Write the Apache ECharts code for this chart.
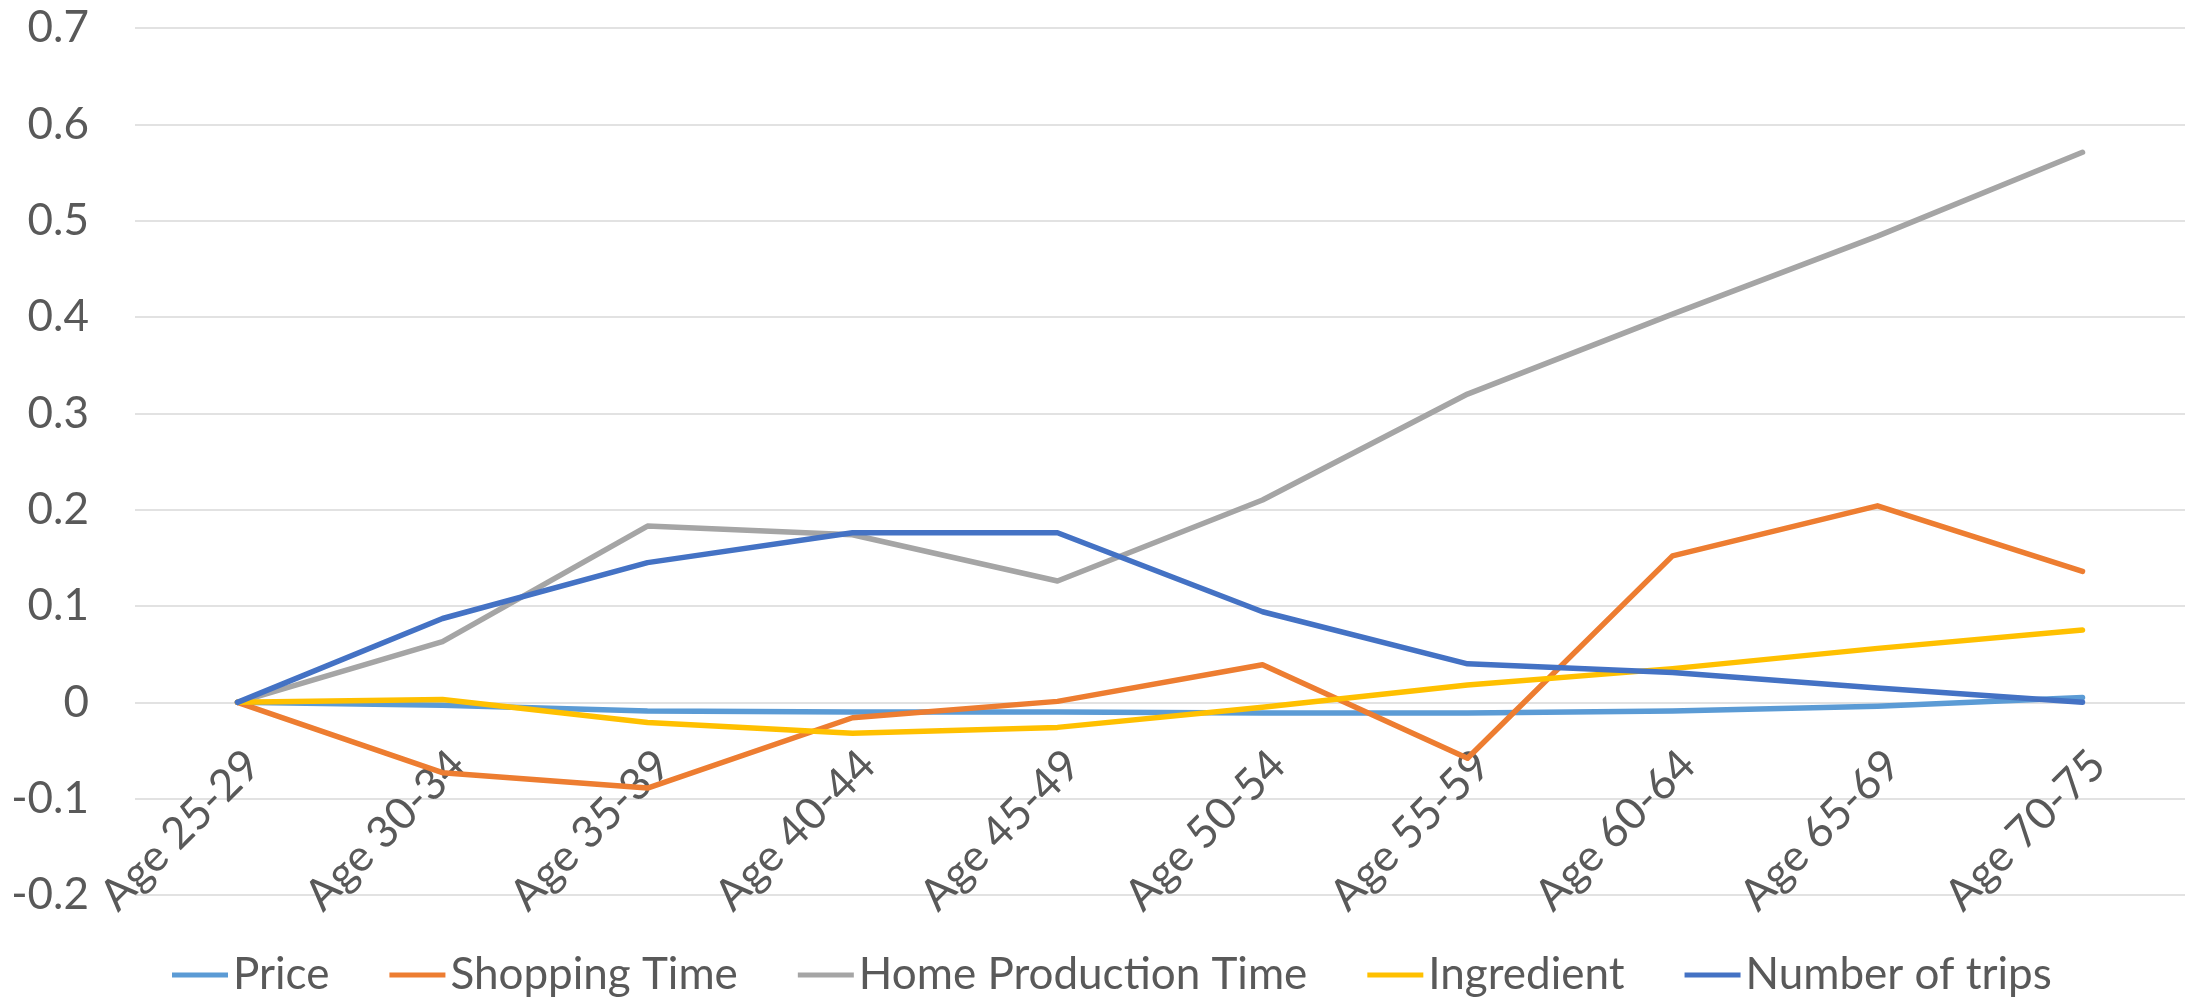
<!DOCTYPE html>
<html>
<head>
<meta charset="utf-8">
<script src="https://cdn.jsdelivr.net/npm/echarts@6/dist/echarts.min.js"></script>
<style>
  html, body { margin: 0; padding: 0; background: #ffffff; }
  #chart { width: 2188px; height: 1000px; }
</style>
</head>
<body>
<div id="chart"></div>
<script>
const categories = ['Age 25-29', 'Age 30-34', 'Age 35-39', 'Age 40-44', 'Age 45-49', 'Age 50-54', 'Age 55-59', 'Age 60-64', 'Age 65-69', 'Age 70-75'];
const price = [0, -0.003, -0.009, -0.010, -0.010, -0.011, -0.011, -0.009, -0.004, 0.005];
const shoppingTime = [0, -0.073, -0.089, -0.016, 0.001, 0.039, -0.058, 0.152, 0.204, 0.136];
const homeProductionTime = [0, 0.063, 0.183, 0.174, 0.126, 0.210, 0.320, 0.403, 0.484, 0.571];
const ingredient = [0, 0.003, -0.021, -0.032, -0.026, -0.005, 0.018, 0.035, 0.056, 0.075];
const numberOfTrips = [0, 0.087, 0.145, 0.176, 0.176, 0.094, 0.040, 0.031, 0.015, 0];

const seriesNames = ['Price', 'Shopping Time', 'Home Production Time', 'Ingredient', 'Number of trips'];
const seriesData = [price, shoppingTime, homeProductionTime, ingredient, numberOfTrips];
const colors = ['#5B9BD5', '#ED7D31', '#A5A5A5', '#FFC000', '#4472C4'];

const FONT = 'Lato';
const TEXT = '#595959';
const Y_MIN = -0.2, Y_MAX = 0.7;
const GRID_TOP = 28, GRID_BOTTOM = 105, H = 1000;
// second grid whose bottom edge sits on the value-axis zero line (category labels hang from it, as in the original)
const plotH = H - GRID_TOP - GRID_BOTTOM;
const zeroBottom = GRID_BOTTOM + plotH * (0 - Y_MIN) / (Y_MAX - Y_MIN);

const chart = echarts.init(document.getElementById('chart'), null, { renderer: 'canvas' });
chart.setOption({
  animation: false,
  color: colors,
  textStyle: { fontFamily: FONT },
  grid: [
    { left: 135, right: 3, top: GRID_TOP, bottom: GRID_BOTTOM, containLabel: false, outerBoundsMode: 'none' },
    { left: 135, right: 3, top: GRID_TOP, bottom: zeroBottom, containLabel: false, outerBoundsMode: 'none' }
  ],
  legend: {
    data: seriesNames,
    left: 167,
    top: 948,
    itemWidth: 56,
    itemHeight: 14,
    itemGap: 60,
    icon: 'path://M0,0 L56,0 L56,5 L0,5 Z',
    textStyle: { fontFamily: FONT, fontSize: 44, color: TEXT, padding: [0, 0, 0, 0] }
  },
  xAxis: [
    {
      type: 'category',
      gridIndex: 0,
      data: categories,
      boundaryGap: true,
      axisLine: { show: false },
      axisTick: { show: false },
      splitLine: { show: false },
      axisLabel: { show: false }
    },
    {
      type: 'category',
      gridIndex: 1,
      data: categories,
      boundaryGap: true,
      axisLine: { show: false },
      axisTick: { show: false },
      splitLine: { show: false },
      axisLabel: {
        interval: 0,
        rotate: 45,
        align: 'right',
        verticalAlign: 'top',
        margin: 40,
        fontFamily: FONT,
        fontSize: 44,
        color: TEXT
      }
    }
  ],
  yAxis: [
    {
      type: 'value',
      gridIndex: 0,
      min: Y_MIN,
      max: Y_MAX,
      interval: 0.1,
      axisLine: { show: false },
      axisTick: { show: false },
      splitLine: { lineStyle: { color: '#D9D9D9', width: 1.5 } },
      axisLabel: {
        margin: 46,
        fontFamily: FONT,
        fontSize: 44,
        color: TEXT,
        formatter: function (v) { return String(Math.round(v * 10) / 10); }
      }
    },
    {
      type: 'value',
      gridIndex: 1,
      min: 0,
      max: 1,
      show: false,
      splitLine: { show: false }
    }
  ],
  series: seriesNames.map(function (name, i) {
    return {
      name: name,
      type: 'line',
      xAxisIndex: 0,
      yAxisIndex: 0,
      data: seriesData[i],
      symbol: 'none',
      showSymbol: false,
      lineStyle: { width: 5.5, color: colors[i], cap: 'round', join: 'round' },
      itemStyle: { color: colors[i] },
      z: 2 + i
    };
  })
});
</script>
</body>
</html>
